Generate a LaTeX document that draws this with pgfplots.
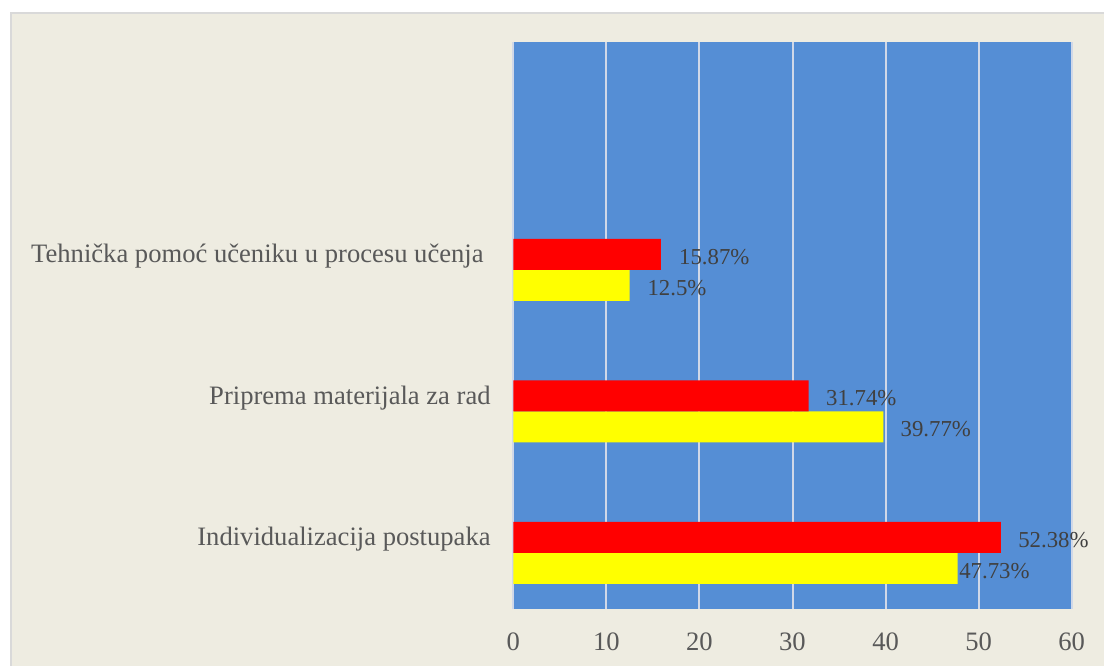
\documentclass[border=0pt]{standalone}
\usepackage{fontspec}
\setmainfont{Liberation Serif}
\usepackage{pgfplots}
\usepackage{pgfplotstable}
\pgfplotsset{compat=1.18}

\definecolor{bgtan}{HTML}{EEECE1}
\definecolor{framec}{HTML}{D9D9D9}
\definecolor{plotblue}{HTML}{558ED5}
\definecolor{gridc}{HTML}{D0D8E8}
\definecolor{txtgray}{HTML}{595959}
\definecolor{lblgray}{HTML}{404040}
\definecolor{barred}{HTML}{FF0000}
\definecolor{baryellow}{HTML}{FFFF00}

% y: 0 = Individualizacija, 1 = Priprema, 2 = Tehnicka
\pgfplotstableread{
y x    dx   lab
0 52.38 17.3 52.38
1 31.74 17.3 31.74
2 15.87 18.0 15.87
}\redtab
\pgfplotstableread{
y x    dx   lab
0 47.73 1.6  47.73
1 39.77 17.0 39.77
2 12.5  17.7 12.5
}\yellowtab

\newcommand\bigfont{\fontsize{26.6}{30}\selectfont}
\newcommand\lblfont{\fontsize{22.8}{26}\selectfont}

\begin{document}
\begin{tikzpicture}
  \useasboundingbox (0,0) rectangle (1104pt,666pt);
  \clip (0,0) rectangle (1104pt,666pt);
  \fill[white] (0,0) rectangle (1104pt,666pt);
  \draw[framec, line width=2pt, fill=bgtan] (11pt,653pt) rectangle (1130pt,-20pt);

  \begin{axis}[
    scale only axis,
    width  = 558.4pt,
    height = 567.6pt,
    at     = {(513.3pt,56.7pt)},
    anchor = south west,
    xmin = 0, xmax = 60,
    ymin = -0.398, ymax = 3.613,
    xtick = {0,10,...,60},
    ytick = {0,1,2},
    yticklabels = {Individualizacija postupaka,
                   Priprema materijala za rad,
                   Tehnička pomoć učeniku u procesu učenja\kern7pt},
    major tick length = 0pt,
    axis line style = {draw=none},
    axis background/.style = {fill=plotblue},
    xmajorgrids = true,
    grid style  = {draw=gridc, line width=2pt},
    clip = false,
    /pgf/number format/assume math mode = true,
    xticklabel style = {anchor=base, inner sep=0pt, yshift=-41.7pt,
                        text=txtgray, font=\bigfont},
    yticklabel style = {anchor=base east, inner sep=0pt, xshift=-22.5pt,
                        yshift=7pt, text=txtgray, font=\bigfont},
    xbar,
    bar width = 0.219,
    point meta = explicit symbolic,
    nodes near coords = {\pgfplotspointmeta\%},
    visualization depends on = {\thisrow{dx} \as \dx},
    every node near coord/.append style = {anchor=base west, inner sep=0pt,
        xshift=\dx pt, yshift=-10pt, text=lblgray, font=\lblfont},
  ]
    \addplot[fill=baryellow, draw=none, bar shift=-0.1095]
      table[x=x, y=y, meta=lab] {\yellowtab};
    \addplot[fill=barred, draw=none, bar shift=0.1095]
      table[x=x, y=y, meta=lab] {\redtab};
  \end{axis}
\end{tikzpicture}
\end{document}
